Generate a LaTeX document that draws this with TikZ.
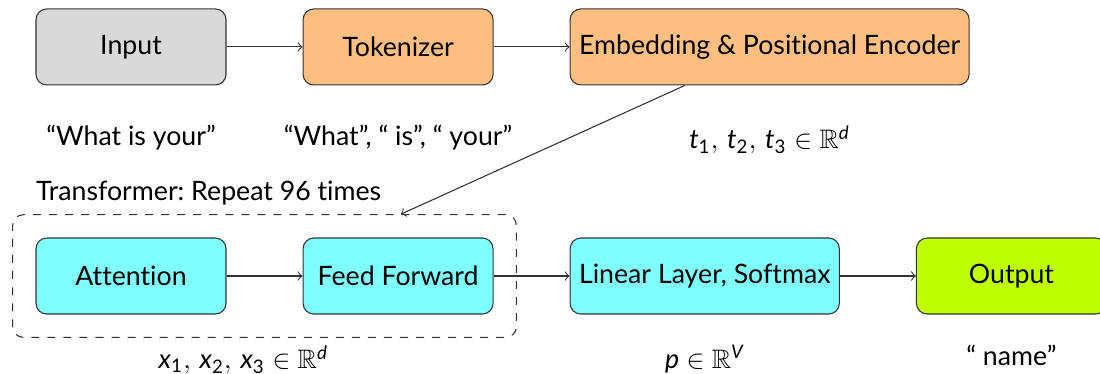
\documentclass[tikz,border=0pt]{standalone}
\usepackage{amsmath}
\usepackage{amssymb}
\usepackage{fontspec}
\setmainfont{Lato}[Ligatures=NoCommon]
\usepackage{tikz}
\usetikzlibrary{positioning, calc, fit}
\definecolor{ccyan}{RGB}{128,255,255}
\definecolor{corange}{RGB}{255,191,128}
\definecolor{cgray}{RGB}{217,217,217}
\definecolor{clime}{RGB}{191,255,0}
\definecolor{cline}{RGB}{51,51,51}
\newcommand{\vsym}[2]{\textit{#1}_{\text{#2}}}
\tikzset{
  stage/.style={rectangle, rounded corners, draw=cline, fill=#1,
                minimum width=2.5cm, minimum height=1cm},
  link/.style={->, draw=cline},
  note/.style={below=0.4cm of #1},
  lownote/.style={below=0.28cm of #1},
}

\begin{document}
\frenchspacing
\begin{tikzpicture}[node distance=2cm and 1cm]
        \useasboundingbox (-1.724,0.618) rectangle (12.75,-4.303);
        \node[stage=cgray] (in) at (0,0) {Input};
        \node[stage=corange, right=of in] (tok) {Tokenizer};
        \node[stage=corange, right=of tok] (emb) {Embedding \& Positional Encoder};
        \node[stage=ccyan, below=of in] (att) {Attention};
        \node[stage=ccyan, right=of att] (ff) {Feed Forward};
        \node[stage=ccyan, right=of ff] (lin) {Linear Layer, Softmax};
        \node[stage=clime, right=of lin] (out) {Output};

        % transformer block
        \node[draw=cline, dashed, rounded corners, inner sep=0.3cm, fit=(att) (ff)] (tf) {};
        \node[anchor=south west, inner sep=0pt] (tflabel) at ($(att.north west)+(0,0.42)$) {Transformer: Repeat 96 times};

        % what goes between the stages
        \node[note=in] (inlbl) {“What is your”};
        \node[note=tok] (toklbl) {“What”, “ is”, “ your”};
        \node[note=emb] (emblbl) {$\vsym{t}{1},\, \vsym{t}{2},\, \vsym{t}{3} \in \mathbb{R}^{\textit{d}}$};
        \node[lownote=att, xshift=1.48cm] (tflbl) {$\vsym{x}{1},\, \vsym{x}{2},\, \vsym{x}{3} \in \mathbb{R}^{\textit{d}}$};
        \node[lownote=lin] (linlbl) {$\textit{p} \in \mathbb{R}^{\textit{V}}$};
        \node[lownote=out] (outlbl) {“ name”};

        \draw[link] (in) -- (tok);
        \draw[link] (tok) -- (emb);
        \draw[link] (emb) -- (tf);
        \draw[link] (att) -- (ff);
        \draw[link] (ff) -- (lin);
        \draw[link] (lin) -- (out);
\end{tikzpicture}
\end{document}
